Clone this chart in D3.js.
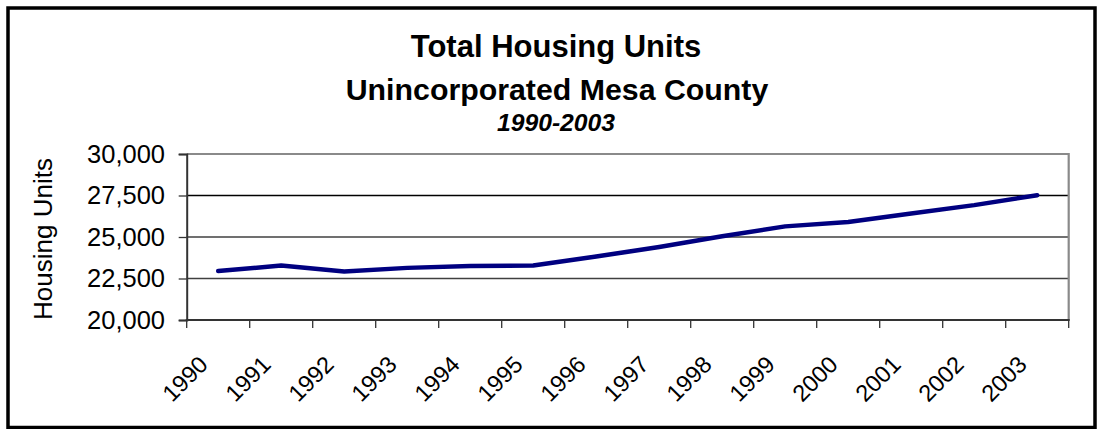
<!DOCTYPE html>
<html><head><meta charset="utf-8">
<script src="https://cdn.jsdelivr.net/npm/d3@7"></script>
<style>body{margin:0;background:#fff}svg{display:block}text{font-family:"Liberation Sans",Arial,sans-serif}</style>
</head><body>
<svg id="c" width="1097" height="429"></svg>
<script>
const years = ["1990","1991","1992","1993","1994","1995","1996","1997","1998","1999","2000","2001","2002","2003"];
const housingUnits = [22950,23280,22920,23140,23260,23280,23820,24400,25050,25640,25900,26420,26920,27520];
const yTicks = [20000,22500,25000,27500,30000];
const titleLines = ["Total Housing Units","Unincorporated Mesa County"];
const subtitle = "1990-2003";
const yTitle = "Housing Units";

const svg = d3.select("#c");
const L=186.7, R=1068.7, T=154, B=320;
const x = d3.scaleBand().domain(years).range([L,R]).padding(0);
const y = d3.scaleLinear().domain([20000,30000]).range([B,T]);

// outer border
svg.append("rect").attr("x",8).attr("y",8).attr("width",1087).attr("height",419.5)
  .attr("fill","none").attr("stroke","#000").attr("stroke-width",3.5);

// titles
svg.append("text").attr("x",556).attr("y",56.7).attr("text-anchor","middle")
  .attr("font-size",31).attr("font-weight","bold").text(titleLines[0]);
svg.append("text").attr("x",557).attr("y",100).attr("text-anchor","middle")
  .attr("font-size",30.3).attr("font-weight","bold").text(titleLines[1]);
svg.append("text").attr("x",556).attr("y",131).attr("text-anchor","middle")
  .attr("font-size",24.7).attr("font-weight","bold").attr("font-style","italic").text(subtitle);

// gridlines
svg.append("g").selectAll("line").data(yTicks.filter(d=>d>20000 && d<30000)).join("line")
  .attr("x1",L).attr("x2",R).attr("y1",d=>y(d)).attr("y2",d=>y(d))
  .attr("stroke",d=>d===27500?"#000":"#404040").attr("stroke-width",1.3);

// frame top & right (gray)
svg.append("path").attr("d",`M${L},${y(30000)}H${R}V${B}`).attr("fill","none")
  .attr("stroke","#8a8a8a").attr("stroke-width",2.2);

// y axis
const ya = svg.append("g").attr("transform",`translate(${L},0)`)
  .call(d3.axisLeft(y).tickValues(yTicks).tickFormat(d3.format(",")).tickSizeOuter(0).tickSize(8).tickPadding(13.7));
ya.select(".domain").attr("stroke","#333").attr("stroke-width",2);
ya.selectAll(".tick line").attr("stroke","#333").attr("stroke-width",1.3);
ya.selectAll(".tick text").attr("font-size",25.5).attr("fill","#000").attr("font-family","Liberation Sans, Arial, sans-serif");

// x axis: ticks at band boundaries
const xg = svg.append("g").attr("transform",`translate(0,${B})`);
const bounds = years.map(d=>x(d)).concat([R]);
xg.selectAll("line.t").data(bounds).join("line").attr("class","t")
  .attr("x1",d=>d).attr("x2",d=>d).attr("y1",0).attr("y2",8).attr("stroke","#333").attr("stroke-width",1.3);
xg.append("line").attr("x1",L-1).attr("x2",R+1).attr("y1",0).attr("y2",0).attr("stroke","#333").attr("stroke-width",2);
xg.selectAll("text").data(years).join("text")
  .attr("transform",d=>`translate(${x(d)+x.bandwidth()/2-9},${46}) rotate(-45)`)
  .attr("text-anchor","end").attr("font-size",23.5).text(d=>d);

// y title
svg.append("text").attr("transform","translate(51.5,239) rotate(-90)").attr("text-anchor","middle")
  .attr("font-size",26).text(yTitle);

// line
const line = d3.line().x((d,i)=>x(years[i])+x.bandwidth()/2).y(d=>y(d));
svg.append("path").datum(housingUnits).attr("d",line).attr("fill","none")
  .attr("stroke","#000080").attr("stroke-width",4.5).attr("stroke-linejoin","round").attr("stroke-linecap","round");
</script>
</body></html>
